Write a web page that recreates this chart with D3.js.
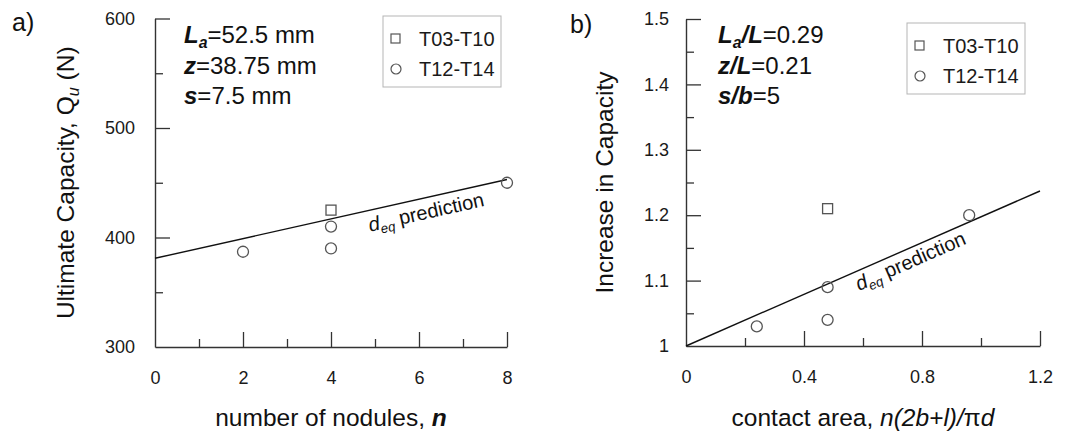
<!DOCTYPE html>
<html>
<head>
<meta charset="utf-8">
<script src="https://cdn.jsdelivr.net/npm/d3@7"></script>
<style>
  body { margin: 0; background: #fff; }
  svg { display: block; font-family: Arial, "Liberation Sans", sans-serif; }
</style>
</head>
<body>
<div id="chart"></div>
<script>
// --------------- Data ---------------
// panel a: number of nodules vs ultimate capacity
const nodulesSquare = [4];
const capacitySquare = [425];
const nodulesCircle = [2, 4, 4, 8];
const capacityCircle = [387, 410, 390, 450];
const predNodules = [0, 8];
const predCapacity = [381, 453];

// panel b: contact area vs increase in capacity
const areaSquare = [0.48];
const increaseSquare = [1.21];
const areaCircle = [0.24, 0.48, 0.48, 0.96];
const increaseCircle = [1.03, 1.09, 1.04, 1.2];
const predArea = [0, 1.2];
const predIncrease = [1, 1.237];

const legendLabels = ["T03-T10", "T12-T14"];

const yTicksA = [300, 400, 500, 600];
const yMinorA = [350, 450, 550];
const xTicksA = [0, 2, 4, 6, 8];
const xMinorA = [1, 3, 5, 7];

const yTicksB = [1, 1.1, 1.2, 1.3, 1.4, 1.5];
const yMinorB = [1.05, 1.15, 1.25, 1.35, 1.45];
const xTicksB = [0, 0.4, 0.8, 1.2];
const xMinorB = [0.2, 0.6, 1.0];

// --------------- Constants ---------------
const WIDTH = 1074;
const HEIGHT = 440;
const MARK_COLOR = "#555";
const AXIS_COLOR = "#333";
const MAJOR_TICK = 15;
const MINOR_TICK = 8;

const svg = d3
  .select("#chart")
  .append("svg")
  .attr("width", WIDTH)
  .attr("height", HEIGHT);

// write a text made of styled runs (bold / italic / subscript)
function richText(text, parts, size) {
  let shift = 0;
  parts.forEach((p) => {
    const ts = text.append("tspan").text(p.t);
    if (p.b) ts.attr("font-weight", "bold");
    if (p.i) ts.attr("font-style", "italic");
    const target = p.sub ? size * 0.22 : 0;
    if (p.sub) ts.attr("font-size", size * 0.66);
    if (target !== shift) {
      ts.attr("dy", target - shift);
      shift = target;
    }
  });
  return text;
}

function drawPanel(cfg) {
  const g = svg.append("g");
  const x = d3.scaleLinear().domain(cfg.xDomain).range(cfg.xRange);
  const y = d3.scaleLinear().domain(cfg.yDomain).range(cfg.yRange);

  // minor ticks
  g.append("g")
    .attr("transform", `translate(0,${cfg.yRange[0]})`)
    .call(d3.axisBottom(x).tickValues(cfg.xMinor).tickSize(-MINOR_TICK).tickSizeOuter(0).tickFormat(""))
    .call((a) => a.select(".domain").remove());
  g.append("g")
    .attr("transform", `translate(${cfg.xRange[0]},0)`)
    .call(d3.axisLeft(y).tickValues(cfg.yMinor).tickSize(-MINOR_TICK).tickSizeOuter(0).tickFormat(""))
    .call((a) => a.select(".domain").remove());

  // major ticks with labels
  const xAxis = g.append("g")
    .attr("transform", `translate(0,${cfg.yRange[0]})`)
    .call(d3.axisBottom(x).tickValues(cfg.xTicks).tickSize(-MAJOR_TICK).tickSizeOuter(0)
      .tickPadding(24).tickFormat(cfg.xFormat));
  const yAxis = g.append("g")
    .attr("transform", `translate(${cfg.xRange[0]},0)`)
    .call(d3.axisLeft(y).tickValues(cfg.yTicks).tickSize(-MAJOR_TICK).tickSizeOuter(0)
      .tickPadding(cfg.yPad).tickFormat(cfg.yFormat));

  [xAxis, yAxis].forEach((a) => {
    a.selectAll("text").attr("font-size", 18).attr("fill", "#1a1a1a")
      .attr("font-family", "Arial, 'Liberation Sans', sans-serif");
  });
  g.selectAll(".tick line").attr("stroke", AXIS_COLOR).attr("stroke-width", 1.3);
  g.selectAll(".domain").attr("stroke", AXIS_COLOR).attr("stroke-width", 1.4);
  xAxis.selectAll(".tick").filter((d) => d === cfg.xDomain[0]).select("line").remove();
  yAxis.selectAll(".tick").filter((d) => d === cfg.yDomain[0]).select("line").remove();

  // prediction line
  const pts = cfg.predX.map((v, i) => [x(v), y(cfg.predY[i])]);
  g.append("path")
    .attr("d", d3.line()(pts))
    .attr("fill", "none")
    .attr("stroke", "#111")
    .attr("stroke-width", 1.4);

  const angle = (Math.atan2(pts[1][1] - pts[0][1], pts[1][0] - pts[0][0]) * 180) / Math.PI;
  const lx = cfg.labelAt;
  const ly = cfg.predY[0] + ((cfg.predY[1] - cfg.predY[0]) * (lx - cfg.predX[0])) / (cfg.predX[1] - cfg.predX[0]);
  const lab = g.append("text")
    .attr("transform", `translate(${x(lx)},${y(ly)}) rotate(${angle})`)
    .attr("y", cfg.labelOffset)
    .attr("font-size", 20)
    .attr("fill", "#111");
  richText(lab, [{ t: "d", i: true }, { t: "eq", i: true, sub: true }, { t: " prediction" }], 20);

  // markers
  const s = 10;
  g.append("g")
    .selectAll("rect")
    .data(cfg.sqX.map((v, i) => [v, cfg.sqY[i]]))
    .join("rect")
    .attr("x", (d) => x(d[0]) - s / 2)
    .attr("y", (d) => y(d[1]) - s / 2)
    .attr("width", s)
    .attr("height", s)
    .attr("fill", "none")
    .attr("stroke", MARK_COLOR)
    .attr("stroke-width", 1.3);
  g.append("g")
    .selectAll("circle")
    .data(cfg.ciX.map((v, i) => [v, cfg.ciY[i]]))
    .join("circle")
    .attr("cx", (d) => x(d[0]))
    .attr("cy", (d) => y(d[1]))
    .attr("r", 5.5)
    .attr("fill", "none")
    .attr("stroke", MARK_COLOR)
    .attr("stroke-width", 1.3);

  // legend
  const lg = g.append("g").attr("transform", `translate(${cfg.legend[0]},${cfg.legend[1]})`);
  lg.append("rect")
    .attr("width", 118)
    .attr("height", 71)
    .attr("fill", "#fff")
    .attr("stroke", "#b5b5b5")
    .attr("stroke-width", 1);
  lg.append("rect").attr("x", 8).attr("y", 18).attr("width", 9).attr("height", 9)
    .attr("fill", "none").attr("stroke", MARK_COLOR).attr("stroke-width", 1.2);
  lg.append("circle").attr("cx", 13).attr("cy", 53).attr("r", 5)
    .attr("fill", "none").attr("stroke", MARK_COLOR).attr("stroke-width", 1.2);
  lg.selectAll("text.leg")
    .data(legendLabels)
    .join("text")
    .attr("class", "leg")
    .attr("x", 36)
    .attr("y", (d, i) => 30 + i * 30)
    .attr("font-size", 20)
    .attr("fill", "#1a1a1a")
    .text((d) => d);

  // annotation
  cfg.notes.forEach((parts, i) => {
    const t = g.append("text")
      .attr("x", cfg.notePos[0])
      .attr("y", cfg.notePos[1] + i * 30.5)
      .attr("font-size", 24)
      .attr("fill", "#111");
    richText(t, parts, 24);
  });

  // panel letter
  g.append("text").attr("x", cfg.letter[0]).attr("y", cfg.letter[1])
    .attr("font-size", 25).attr("fill", "#111").text(cfg.letterText);

  // axis titles
  const xt = g.append("text")
    .attr("x", (cfg.xRange[0] + cfg.xRange[1]) / 2)
    .attr("y", 426)
    .attr("text-anchor", "middle")
    .attr("font-size", 24.5)
    .attr("fill", "#111");
  richText(xt, cfg.xTitle, 24.5);
  const yt = g.append("text")
    .attr("transform", `translate(${cfg.yTitleX},${(cfg.yRange[0] + cfg.yRange[1]) / 2}) rotate(-90)`)
    .attr("text-anchor", "middle")
    .attr("font-size", 24.5)
    .attr("fill", "#111");
  richText(yt, cfg.yTitle, 24.5);
}

drawPanel({
  xDomain: [0, 8], xRange: [155, 507],
  yDomain: [300, 600], yRange: [347, 18.5],
  xTicks: xTicksA, xMinor: xMinorA, yTicks: yTicksA, yMinor: yMinorA,
  xFormat: d3.format("d"), yFormat: d3.format("d"), yPad: 20,
  predX: predNodules, predY: predCapacity, labelAt: 4.78, labelOffset: 21,
  sqX: nodulesSquare, sqY: capacitySquare, ciX: nodulesCircle, ciY: capacityCircle,
  legend: [383, 16],
  notePos: [184, 43],
  notes: [
    [{ t: "L", b: true, i: true }, { t: "a", b: true, i: true, sub: true }, { t: "=52.5 mm" }],
    [{ t: "z", b: true, i: true }, { t: "=38.75 mm" }],
    [{ t: "s", b: true, i: true }, { t: "=7.5 mm" }],
  ],
  letter: [12, 31], letterText: "a)",
  xTitle: [{ t: "number of nodules, " }, { t: "n", b: true, i: true }],
  yTitleX: 74,
  yTitle: [{ t: "Ultimate Capacity,  Q" }, { t: "u", i: true, sub: true }, { t: " (N)" }],
});

drawPanel({
  xDomain: [0, 1.2], xRange: [686, 1040],
  yDomain: [1, 1.5], yRange: [346, 19],
  xTicks: xTicksB, xMinor: xMinorB, yTicks: yTicksB, yMinor: yMinorB,
  xFormat: (d) => (d === 0 ? "0" : d3.format(".1f")(d)),
  yFormat: (d) => (d === 1 ? "1" : d3.format(".1f")(d)), yPad: 17,
  predX: predArea, predY: predIncrease, labelAt: 0.561, labelOffset: 19,
  sqX: areaSquare, sqY: increaseSquare, ciX: areaCircle, ciY: increaseCircle,
  legend: [907, 23],
  notePos: [718, 43],
  notes: [
    [{ t: "L", b: true, i: true }, { t: "a", b: true, i: true, sub: true }, { t: "/L", b: true, i: true }, { t: "=0.29" }],
    [{ t: "z/L", b: true, i: true }, { t: "=0.21" }],
    [{ t: "s/b", b: true, i: true }, { t: "=5" }],
  ],
  letter: [570, 33], letterText: "b)",
  xTitle: [{ t: "contact area, " }, { t: "n(2b+l)/", i: true }, { t: "π" }, { t: "d", i: true }],
  yTitleX: 613,
  yTitle: [{ t: "Increase in Capacity" }],
});
</script>
</body>
</html>
